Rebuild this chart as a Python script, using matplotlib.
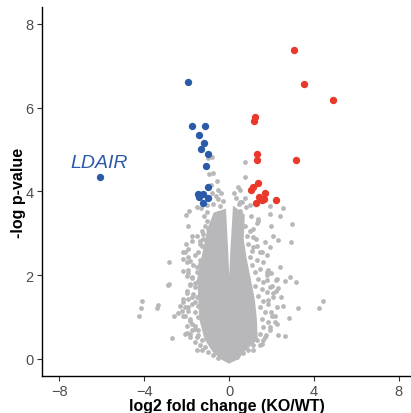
import numpy as np
import matplotlib.pyplot as plt

plt.rcParams['font.family'] = ['Liberation Sans', 'DejaVu Sans']

# dense core of the non-significant genes (outline of the solid grey mass)
core_x = [-0.66, -0.94, -1.18, -1.42, -1.37, -1.32, -1.08, -0.71, -0.33, 0.00,
          0.38, 0.75, 1.27, 1.23, 1.13, 0.94, 0.75, 0.61, 0.66, 0.26,
          0.14, 0.07, 0.01, -0.05, -0.12, -0.22]
core_y = [3.46, 3.10, 2.51, 1.91, 1.43, 0.95, 0.48, 0.19, 0.02, -0.07,
          0.02, 0.24, 0.48, 0.95, 1.43, 1.91, 2.39, 2.86, 3.42, 3.58,
          2.55, 1.74, 0.88, 1.74, 2.55, 3.53]

# scattered non-significant genes
ns_x = [-0.98, -0.79, -0.96, -0.75, -0.55, -0.83, -0.52, -0.82, -0.52, -1.02,
        -1.31, -1.90, -2.04, -1.18, -1.93, -1.73, -1.52, -1.05, -2.03, -1.37,
        -1.21, -0.98, -2.16, -1.92, -1.84, -2.84, -2.16, -1.92, -2.00, -1.76,
        -1.52, -1.37, -2.86, -1.84, -1.60, -2.00, -2.16, -1.76, -4.12, -3.33,
        -1.60, -4.17, -4.25, -3.41, -2.58, -2.42, -2.23, -2.08, -2.70, -2.08,
        -1.52, -1.92, -2.08, -1.84, -1.76, -1.60, -2.00, -1.84, -1.45, -1.76,
        -2.83,
        0.75, 0.77, 0.50, 0.74, 0.50, 0.98, 1.92, 2.55, 1.92, 2.39,
        1.37, 1.37, 2.97, 1.97, 1.13, 2.31, 1.68, 2.94, 1.29, 1.13,
        1.92, 0.80, 0.52, 1.02, 1.33, 2.09, 1.54, 1.78, 2.41, 2.88,
        3.15, 2.64, 2.25, 2.20, 2.56, 1.78, 1.93, 1.84, 2.00, 2.23,
        1.81, 2.31, 2.08, 2.47, 1.84, 4.45, 4.26, 3.27, 2.84, 2.64,
        2.30, 2.00, 2.16, 1.92, 1.76, 1.45, 1.60, 1.13, 2.16]
ns_y = [4.80, 4.83, 4.42, 4.44, 4.25, 4.15, 4.02, 3.95, 3.82, 3.68,
        3.59, 3.54, 3.44, 3.42, 3.17, 2.94, 3.62, 3.50, 2.74, 2.74,
        2.86, 3.10, 2.55, 2.43, 2.34, 2.32, 2.10, 2.05, 1.97, 1.92,
        2.20, 2.27, 1.77, 1.76, 1.80, 1.56, 1.44, 1.48, 1.38, 1.28,
        1.36, 1.21, 1.03, 1.21, 1.03, 1.09, 1.15, 1.23, 0.50, 0.60,
        0.20, 1.23, 1.03, 0.95, 0.84, 0.72, 0.61, 0.52, 0.56, 0.68,
        1.79,
        4.71, 4.33, 4.02, 3.84, 3.75, 3.68, 3.66, 3.60, 3.46, 3.41,
        3.34, 3.28, 3.22, 3.16, 3.10, 2.84, 2.80, 2.79, 2.86, 2.67,
        2.67, 3.62, 3.54, 3.42, 3.25, 2.94, 2.55, 2.47, 2.20, 1.95,
        1.83, 1.85, 1.91, 1.63, 1.27, 2.07, 1.71, 2.13, 2.05, 1.88,
        1.88, 1.68, 1.56, 1.48, 1.40, 1.37, 1.22, 1.21, 0.97, 0.54,
        0.56, 1.11, 0.88, 0.76, 0.56, 0.32, 0.44, 0.20, 1.03]

# crowded genes just outside the solid core
fringe_x = [-1.37, -1.29, -1.45, -1.60, -1.37, -1.68, -1.92, -1.52, -1.76, -1.45,
            -1.84, -1.60, -2.00, -1.68, -1.52, -1.92, -2.16, -1.76, -1.45, -2.31,
            -1.92, -1.60, -2.16, -1.45, -1.84, -1.60, -2.00, -1.45, -1.84, -1.52,
            -1.29, -1.60, -1.37, -1.13, -1.29, -0.98, -0.74, -0.50, -1.13, -1.29,
            -1.52, -1.21, -1.05, -1.76, -1.92, -2.08, -2.16, -2.00,
            0.75, 0.99, 0.83, 1.15, 0.91, 1.31, 1.07, 1.46, 0.99, 1.31,
            1.62, 1.07, 1.46, 1.23, 1.78, 1.38, 1.62, 1.23, 2.01, 1.54,
            1.78, 1.38, 2.09, 1.62, 1.85, 1.46, 2.25, 1.70, 2.01, 1.54,
            1.85, 2.25, 1.62, 1.93, 1.46, 1.70, 1.31, 1.54, 1.15, 0.91,
            0.67, 0.36,
            -0.75, -0.45, -0.30, -0.60, -0.40, 0.35, 0.45, 0.60, 0.25, 0.40]
fringe_y = [2.82, 2.70, 2.55, 2.47, 2.35, 2.23, 2.11, 2.07, 1.95, 1.87,
            1.79, 1.71, 1.63, 1.55, 1.47, 1.43, 1.35, 1.31, 1.27, 1.27,
            1.15, 1.11, 1.03, 0.99, 0.91, 0.79, 0.79, 0.68, 0.60, 0.52,
            0.44, 0.40, 0.32, 0.28, 0.20, 0.16, 0.08, 0.02, 3.18, 3.06,
            2.94, 2.98, 3.30, 2.82, 2.63, 2.55, 2.39, 2.31,
            3.18, 3.06, 2.94, 2.90, 2.74, 2.70, 2.58, 2.55, 2.43, 2.35,
            2.31, 2.23, 2.15, 2.07, 1.99, 1.91, 1.83, 1.75, 1.75, 1.67,
            1.59, 1.51, 1.47, 1.39, 1.31, 1.23, 1.23, 1.11, 1.03, 0.95,
            0.88, 0.84, 0.76, 0.68, 0.60, 0.52, 0.44, 0.36, 0.32, 0.22,
            0.14, 0.04,
            3.70, 3.65, 3.78, 3.88, 3.95, 3.85, 3.70, 3.75, 3.95, 4.10]

# down-regulated (blue)
down_x = [-1.92, -1.73, -1.15, -1.40, -1.17, -1.31, -0.98, -1.08, -0.99, -1.45,
          -1.24, -1.43, -1.00, -1.21, -6.08]
down_y = [6.60, 5.57, 5.57, 5.35, 5.16, 5.01, 4.89, 4.60, 4.11, 3.94,
          3.94, 3.87, 3.83, 3.72, 4.34]

# up-regulated (red)
up_x = [3.07, 3.54, 4.91, 1.21, 1.18, 1.31, 1.34, 3.15, 1.35, 1.13,
        1.05, 1.68, 1.40, 1.57, 1.67, 2.23, 1.27]
up_y = [7.37, 6.55, 6.18, 5.78, 5.67, 4.90, 4.74, 4.74, 4.20, 4.11,
        4.02, 3.96, 3.87, 3.79, 3.82, 3.79, 3.72]

label_text = 'LDAIR'
label_pos = (-7.5, 4.58)

x_ticks = [-8, -4, 0, 4, 8]
y_ticks = [0, 2, 4, 6, 8]

grey = '#b8b8ba'
blue = '#2b5ba8'
red = '#e8392b'

fig = plt.figure(figsize=(4.11, 4.14), dpi=100)
ax = fig.add_axes([42 / 411, 1 - 377 / 414, 369 / 411, 369 / 414])

ax.fill(core_x, core_y, color=grey, lw=2.5, ec=grey, zorder=1)
ax.scatter(ns_x, ns_y, s=12, color=grey, lw=0, zorder=2)
ax.scatter(fringe_x, fringe_y, s=12, color=grey, lw=0, zorder=2)
ax.scatter(down_x, down_y, s=28, color=blue, lw=0, zorder=3)
ax.scatter(up_x, up_y, s=28, color=red, lw=0, zorder=3)

ax.text(label_pos[0], label_pos[1], label_text, color=blue, fontsize=14,
        fontstyle='italic', ha='left', va='baseline')

ax.set_xlim(-8.82, 8.58)
ax.set_ylim(-0.41, 8.40)
ax.set_xticks(x_ticks)
ax.set_yticks(y_ticks)
ax.tick_params(labelsize=10.5, labelcolor='#4d4d4d', color='#333333',
               length=3.5, width=0.8, direction='out', pad=2.5)

ax.spines['top'].set_visible(False)
ax.spines['right'].set_visible(False)
for side in ['left', 'bottom']:
    ax.spines[side].set_linewidth(1.0)

ax.set_xlabel('log2 fold change (KO/WT)', fontsize=11.5, fontweight='bold')
ax.set_ylabel('-log p-value', fontsize=11.5, fontweight='bold')
ax.xaxis.set_label_coords(0.5, -0.06)
ax.yaxis.set_label_coords(-0.043, 0.5)

fig.savefig('out.png', dpi=100)
